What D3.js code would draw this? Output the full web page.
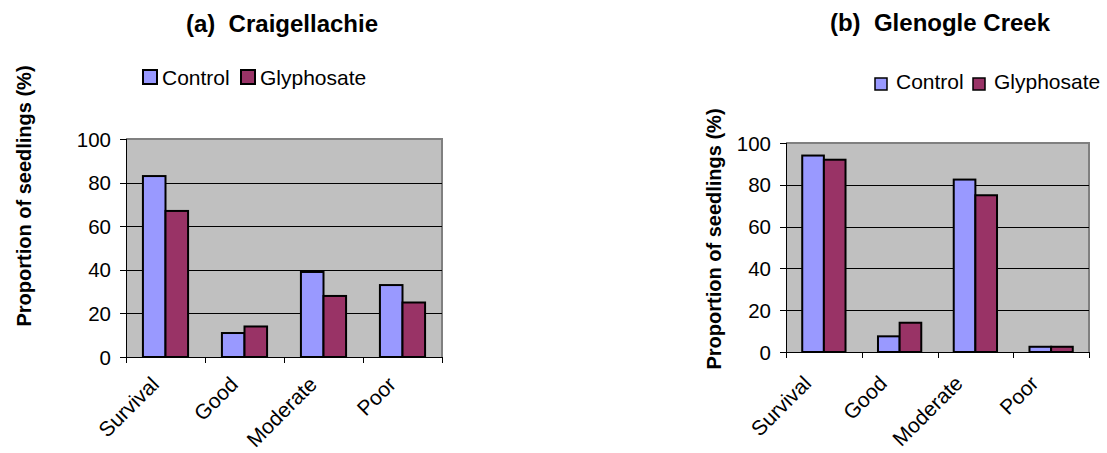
<!DOCTYPE html>
<meta charset="utf-8">
<head>
<title>Seedling condition: Craigellachie and Glenogle Creek</title>
<style>
body { margin: 0; background: #fff; }
svg { display: block; font-family: "Liberation Sans", Arial, sans-serif; }
.plot-bg { fill: #c0c0c0; stroke: none; }
.plot-border { fill: none; stroke: #808080; stroke-width: 2px; }
.grid line { stroke: #000; stroke-width: 1px; }
.axis path, .axis line { stroke: #000; stroke-width: 1px; shape-rendering: crispEdges; }
.axis text { font-size: 20.5px; fill: #000; }
.axis text.cat-label { font-size: 21px; }
.bar { stroke: #000; stroke-width: 2px; }
.title { font-size: 24px; font-weight: bold; text-anchor: middle; white-space: pre; }
.ylabel { font-size: 20px; font-weight: bold; text-anchor: middle; }
.legend text { font-size: 21px; }
</style>
</head>
<body>
<script src="https://cdn.jsdelivr.net/npm/d3@7"></script>
<div id="chart"></div>
<script>

// categories and tick labels
var categories = ["Survival", "Good", "Moderate", "Poor"];
var seriesNames = ["Control", "Glyphosate"];
var yTicks = [0, 20, 40, 60, 80, 100];

// (a) Craigellachie
var craigControl = [83, 11, 39, 33];
var craigGlyphosate = [67, 14, 28, 25];

// (b) Glenogle Creek
var glenControl = [94, 7.5, 82.5, 2.5];
var glenGlyphosate = [92, 14, 75, 2.5];

var colors = ["#9999ff", "#993366"];

var width = 1107,
    height = 453;

var svg = d3.select("#chart").append("svg")
    .attr("width", width)
    .attr("height", height);

function drawPanel(opt) {
  var g = svg.append("g");

  var x0 = d3.scaleBand()
      .domain(categories)
      .range([opt.left, opt.right])
      .paddingInner(0)
      .paddingOuter(0);

  var x1 = d3.scaleBand()
      .domain(seriesNames)
      .range([0, x0.bandwidth()])
      .paddingInner(0)
      .paddingOuter(0.75);

  var y = d3.scaleLinear()
      .domain([0, 100])
      .range([opt.bottom, opt.top]);

  // plot area
  g.append("rect")
      .attr("class", "plot-bg")
      .attr("x", opt.left)
      .attr("y", opt.top)
      .attr("width", opt.right - opt.left)
      .attr("height", opt.bottom - opt.top);

  g.append("path")
      .attr("class", "plot-border")
      .attr("d", "M" + opt.left + "," + opt.top + "H" + opt.right + "V" + opt.bottom);

  g.append("g")
      .attr("class", "grid")
      .selectAll("line")
      .data(yTicks.filter(function (d) { return d > 0 && d < 100; }))
      .enter().append("line")
      .attr("x1", opt.left)
      .attr("x2", opt.right)
      .attr("y1", function (d) { return Math.round(y(d)) + 0.5; })
      .attr("y2", function (d) { return Math.round(y(d)) + 0.5; });

  // bars
  var rows = categories.map(function (c, i) {
    return { cat: c, vals: [opt.control[i], opt.glyphosate[i]] };
  });

  var groups = g.selectAll(".cat")
      .data(rows)
      .enter().append("g")
      .attr("transform", function (d) { return "translate(" + x0(d.cat) + ",0)"; });

  groups.selectAll("rect")
      .data(function (d) { return d.vals.map(function (v, j) { return { s: seriesNames[j], v: v, j: j }; }); })
      .enter().append("rect")
      .attr("class", "bar")
      .attr("x", function (d) { return x1(d.s); })
      .attr("width", x1.bandwidth())
      .attr("y", function (d) { return y(d.v); })
      .attr("height", function (d) { return opt.bottom - y(d.v); })
      .attr("fill", function (d) { return colors[d.j]; });

  // y axis
  var yAxis = g.append("g")
      .attr("class", "axis")
      .attr("transform", "translate(" + opt.left + ",0)")
      .call(d3.axisLeft(y).tickValues(yTicks).tickSize(6).tickPadding(9));
  yAxis.selectAll("text").attr("dy", "0.35em");

  // x axis: ticks at category boundaries
  var bounds = categories.map(function (c) { return x0(c); }).concat([opt.right]);
  var xAxis = g.append("g")
      .attr("class", "axis");
  xAxis.append("line")
      .attr("x1", opt.left).attr("x2", opt.right)
      .attr("y1", opt.bottom).attr("y2", opt.bottom);
  xAxis.selectAll(".tick")
      .data(bounds)
      .enter().append("line")
      .attr("x1", function (d) { return Math.round(d) + 0.5; })
      .attr("x2", function (d) { return Math.round(d) + 0.5; })
      .attr("y1", opt.bottom)
      .attr("y2", opt.bottom + 6);
  xAxis.selectAll(".cat-label")
      .data(categories)
      .enter().append("text")
      .attr("class", "cat-label")
      .attr("text-anchor", "end")
      .attr("transform", function (d) {
        return "translate(" + (x0(d) + x0.bandwidth() / 2 + opt.labelShift) + "," + opt.labelY + ") rotate(-45)";
      })
      .attr("dy", "0.72em")
      .text(function (d) { return d; });

  // title
  g.append("text")
      .attr("class", "title")
      .attr("x", opt.titleX)
      .attr("y", opt.titleY)
      .text(opt.title);

  // y label
  g.append("text")
      .attr("class", "ylabel")
      .attr("transform", "translate(" + opt.ylabelX + "," + opt.ylabelY + ") rotate(-90)")
      .text("Proportion of seedlings (%)");

  // legend
  var legend = g.append("g")
      .attr("class", "legend")
      .attr("transform", "translate(" + opt.legendX + "," + opt.legendY + ")");
  var item = legend.selectAll("g")
      .data(seriesNames)
      .enter().append("g")
      .attr("transform", function (d, i) { return "translate(" + opt.legendOffsets[i] + ",0)"; });
  item.append("rect")
      .attr("width", opt.swatch)
      .attr("height", opt.swatch)
      .attr("fill", function (d, i) { return colors[i]; })
      .attr("stroke", "#000")
      .attr("stroke-width", opt.swatchStroke);
  item.append("text")
      .attr("x", opt.legendTextX)
      .attr("y", opt.legendBaseline)
      .text(function (d) { return d; });
}

drawPanel({
  title: "(a)  Craigellachie",
  control: craigControl, glyphosate: craigGlyphosate,
  left: 126, right: 442, top: 139, bottom: 357,
  titleX: 282, titleY: 32,
  ylabelX: 31, ylabelY: 196,
  legendX: 143, legendY: 70, legendOffsets: [0, 98], swatch: 14, swatchStroke: 2,
  legendTextX: 19, legendBaseline: 14.5,
  labelShift: -16, labelY: 375
});

drawPanel({
  title: "(b)  Glenogle Creek",
  control: glenControl, glyphosate: glenGlyphosate,
  left: 786, right: 1089, top: 143, bottom: 352,
  titleX: 940, titleY: 31,
  ylabelX: 721, ylabelY: 239,
  legendX: 875, legendY: 78, legendOffsets: [0, 98], swatch: 12, swatchStroke: 1.5,
  legendTextX: 21, legendBaseline: 10.5,
  labelShift: -22, labelY: 374
});

</script>
</body>
